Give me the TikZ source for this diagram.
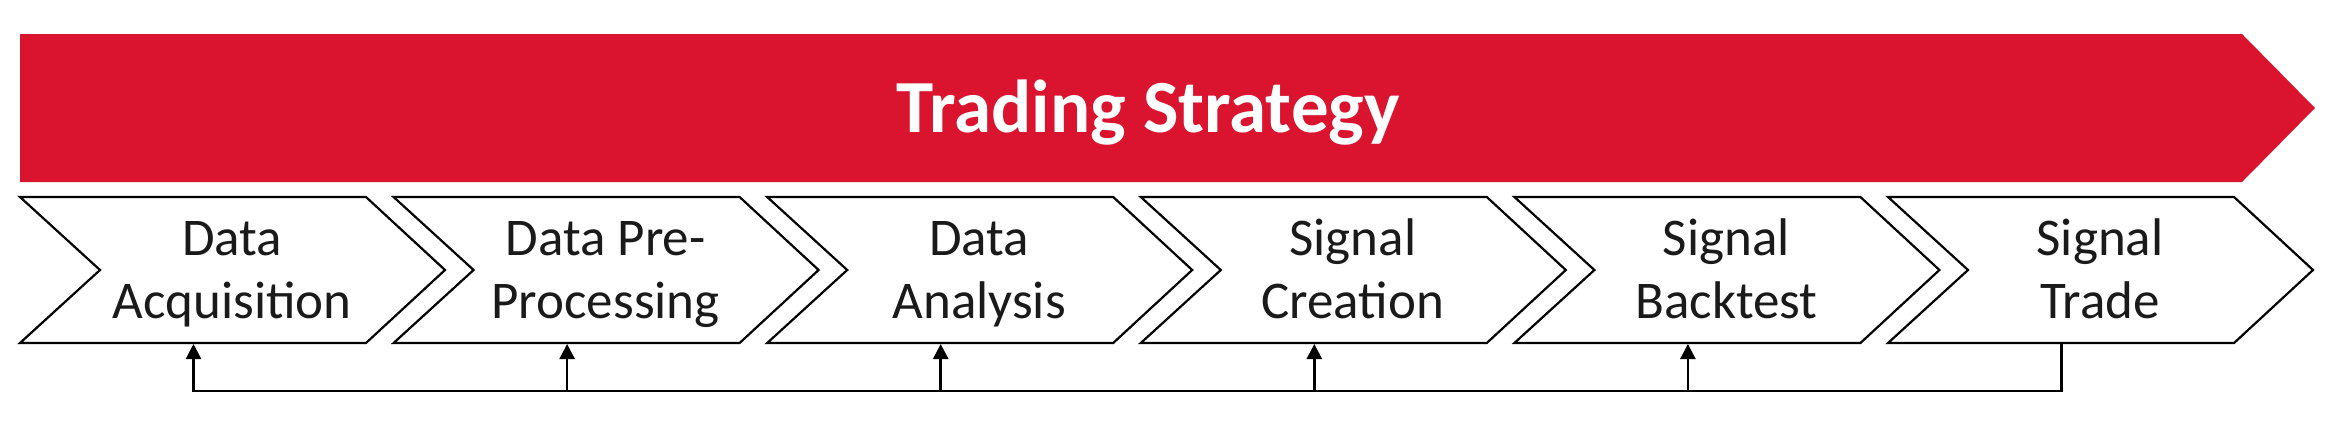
\documentclass[tikz,border=0pt]{standalone}
\usepackage{fontspec}
\setmainfont{Carlito}
\usetikzlibrary{arrows.meta}
\definecolor{tsred}{RGB}{218,20,46}
\definecolor{tstext}{RGB}{26,26,26}
\begin{document}
\begin{tikzpicture}[x=1pt,y=-1pt,
  chev/.style={draw=black,line width=2.2pt,fill=white,line join=miter},
  lbl/.style={inner sep=0pt,align=center,text=tstext,font=\fontsize{53}{63.5}\selectfont},
  conn/.style={line width=2.5pt,draw=black},
  arr/.style={conn,-{Triangle[width=15pt,length=15pt]}}]
\useasboundingbox (0,0) rectangle (2342,426);
\fill[tsred] (20,34) -- (2242,34) -- (2315,108) -- (2242,182) -- (20,182) -- cycle;
\node[font=\fontsize{75}{88}\selectfont\bfseries,text=white,anchor=base,inner sep=0pt] (title) at (1148,132) {Trading Strategy};
\foreach \k/\a/\b [evaluate=\k as \L using {20+373.6*\k}] in
  {0/Data/Acquisition, 1/Data Pre-/Processing, 2/Data/Analysis,
   3/Signal/Creation, 4/Signal/Backtest, 5/Signal/Trade}{
  \draw[chev] (\L,197) -- ++(346,0) -- ++(79,73) -- ++(-79,73) -- ++(-346,0) -- ++(80,-73) -- cycle;
  \node[lbl] (c\k) at (\L+212,270) {\rule{0pt}{47.5pt}\a\\\b\rule[-14pt]{0pt}{14pt}};
  \coordinate (b\k) at (\L+173.5,344);
}
\coordinate (bus) at (0,391);
\draw[arr] (b5) -- (b5|-bus) -- (b0|-bus) -- (b0);
\foreach \k in {1,2,3,4}{
  \draw[arr] (b\k|-bus) -- (b\k);
}
\end{tikzpicture}
\end{document}
